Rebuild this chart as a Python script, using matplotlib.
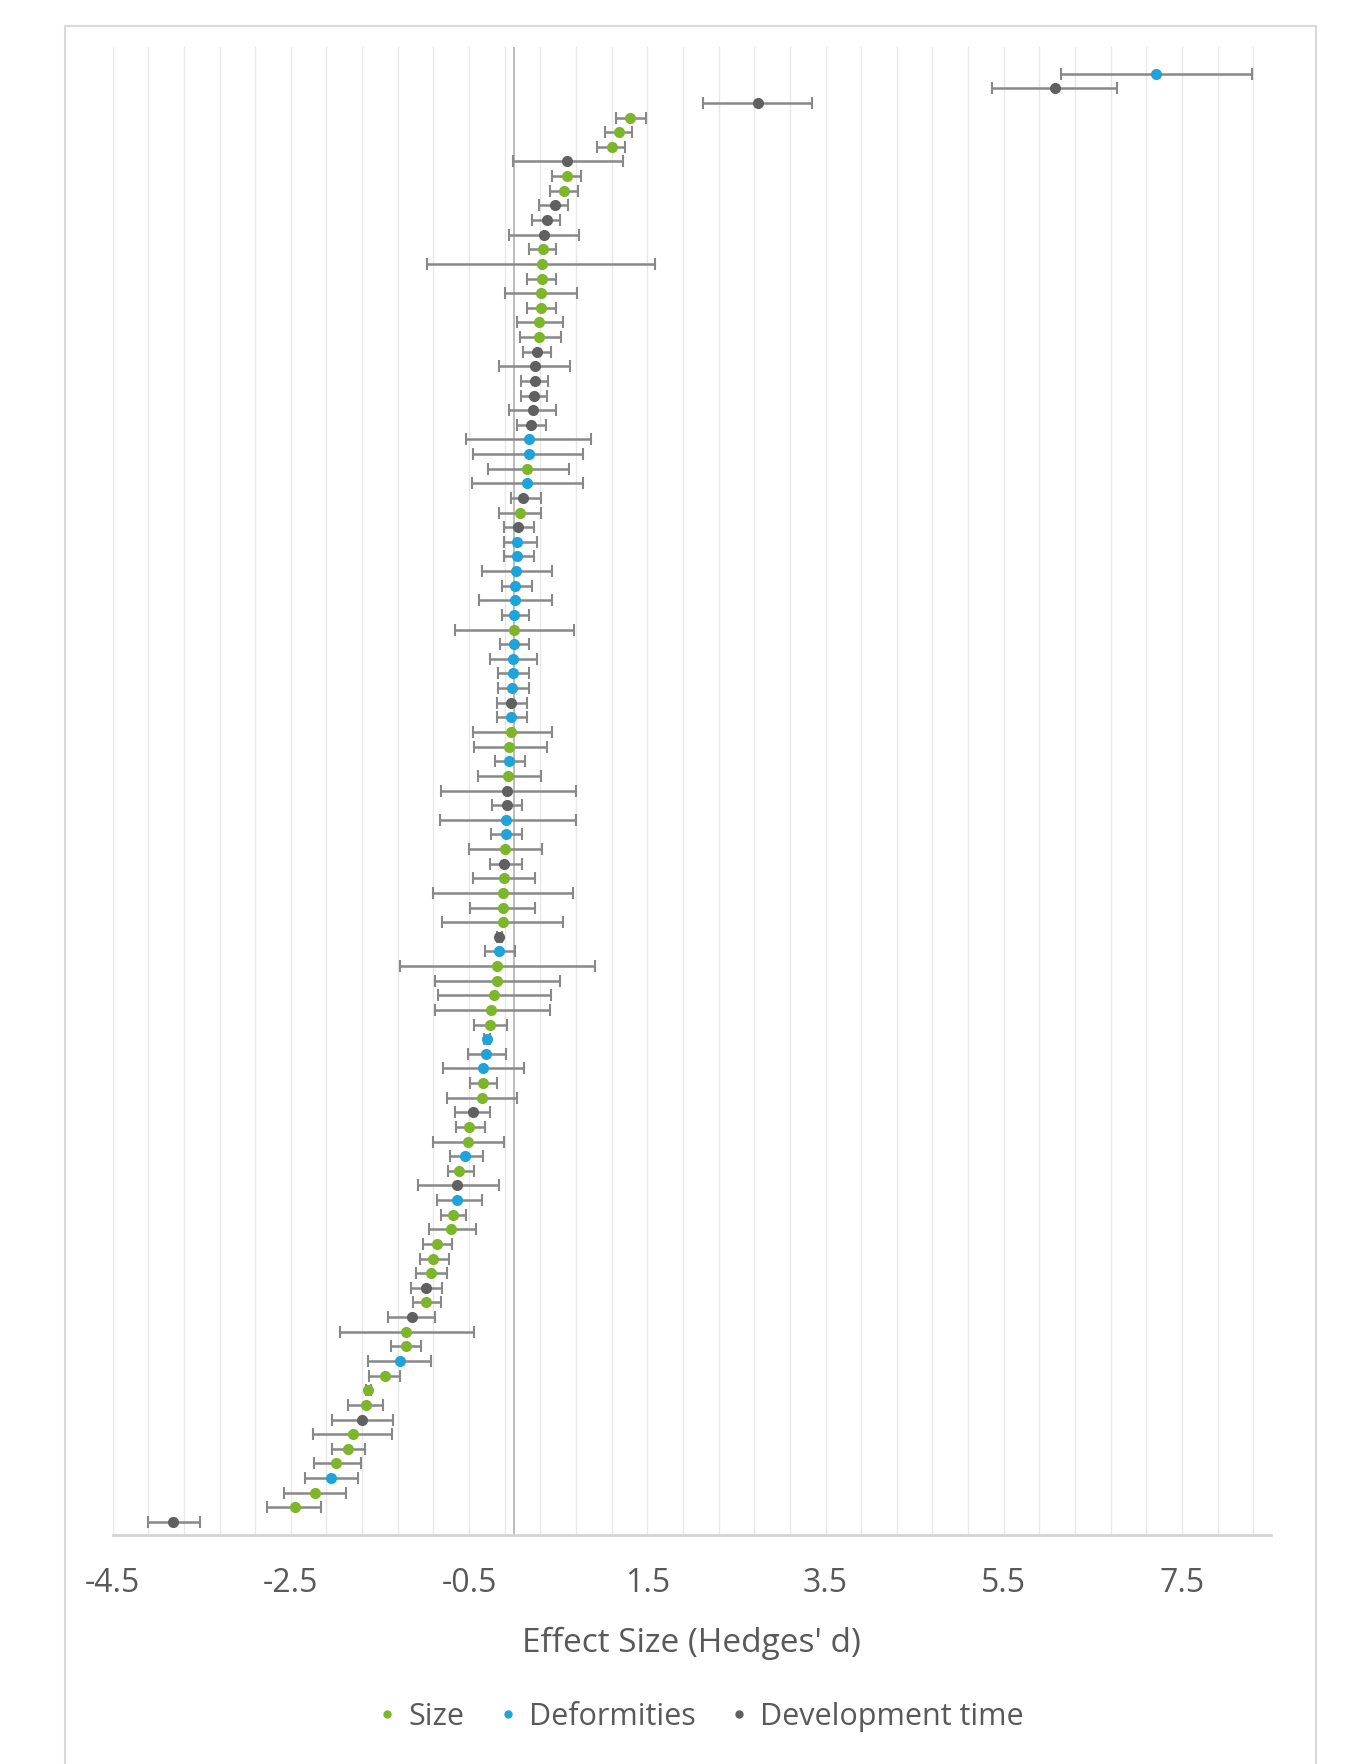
import numpy as np
import matplotlib.pyplot as plt
from matplotlib.lines import Line2D
from matplotlib.patches import Rectangle

plt.rcParams['font.family'] = ['Open Sans', 'DejaVu Sans']
plt.rcParams['axes.unicode_minus'] = False

# S = Size, D = Deformities, T = Development time (top row first)
outcome = list('DTTSSSTSST' 'TTSSSSSSST' 'TTTTTDDSDT' 'STDDDDDDSD' 'DDDTDSSDST'
               'TDDSTSSSST' 'DSSSSSDDDS' 'STSSDSTDSS' 'SSSTSTSSDS' 'SSTSSSDSST')
effect = [7.21, 6.08, 2.74, 1.31, 1.18, 1.10, 0.60, 0.60, 0.56, 0.46,
          0.37, 0.34, 0.33, 0.32, 0.32, 0.31, 0.31, 0.29, 0.28, 0.26,
          0.24, 0.24, 0.23, 0.22, 0.19, 0.17, 0.17, 0.15, 0.15, 0.10,
          0.07, 0.05, 0.04, 0.04, 0.03, 0.02, 0.02, 0.00, 0.00, 0.00,
          -0.01, -0.01, -0.02, -0.03, -0.03, -0.03, -0.05, -0.05, -0.06, -0.07,
          -0.07, -0.08, -0.08, -0.10, -0.11, -0.11, -0.12, -0.12, -0.12, -0.16,
          -0.16, -0.19, -0.19, -0.22, -0.25, -0.27, -0.30, -0.31, -0.34, -0.34,
          -0.36, -0.46, -0.50, -0.51, -0.54, -0.61, -0.64, -0.63, -0.68, -0.70,
          -0.86, -0.90, -0.93, -0.98, -0.98, -1.14, -1.21, -1.21, -1.28, -1.44,
          -1.63, -1.66, -1.70, -1.80, -1.86, -1.99, -2.05, -2.23, -2.45, -3.82]
ci_low = [6.14, 5.37, 2.12, 1.15, 1.02, 0.94, -0.01, 0.43, 0.41, 0.29,
          0.21, -0.05, 0.17, -0.97, 0.15, -0.10, 0.15, 0.04, 0.07, 0.10,
          -0.16, 0.08, 0.08, -0.05, 0.04, -0.53, -0.46, -0.29, -0.47, -0.03,
          -0.16, -0.11, -0.11, -0.11, -0.36, -0.13, -0.39, -0.13, -0.66, -0.15,
          -0.27, -0.17, -0.17, -0.19, -0.19, -0.46, -0.44, -0.21, -0.40, -0.82,
          -0.24, -0.83, -0.25, -0.50, -0.27, -0.46, -0.90, -0.49, -0.80, -0.19,
          -0.32, -1.27, -0.88, -0.85, -0.88, -0.44, -0.33, -0.51, -0.79, -0.49,
          -0.75, -0.66, -0.65, -0.90, -0.71, -0.74, -1.07, -0.86, -0.81, -0.95,
          -1.02, -1.05, -1.10, -1.15, -1.13, -1.41, -1.95, -1.38, -1.63, -1.62,
          -1.66, -1.86, -2.04, -2.25, -2.04, -2.24, -2.34, -2.58, -2.77, -4.10]
ci_high = [8.28, 6.77, 3.35, 1.48, 1.33, 1.25, 1.23, 0.76, 0.72, 0.61,
           0.52, 0.73, 0.48, 1.59, 0.48, 0.71, 0.47, 0.55, 0.53, 0.42,
           0.63, 0.39, 0.38, 0.48, 0.36, 0.87, 0.78, 0.62, 0.78, 0.31,
           0.31, 0.23, 0.26, 0.23, 0.43, 0.21, 0.43, 0.17, 0.68, 0.17,
           0.26, 0.17, 0.17, 0.15, 0.15, 0.43, 0.38, 0.13, 0.31, 0.70,
           0.09, 0.70, 0.09, 0.32, 0.09, 0.24, 0.67, 0.24, 0.55, -0.13,
           0.02, 0.91, 0.52, 0.42, 0.41, -0.07, -0.27, -0.08, 0.12, -0.19,
           0.04, -0.26, -0.32, -0.11, -0.34, -0.45, -0.16, -0.36, -0.53, -0.42,
           -0.69, -0.73, -0.75, -0.80, -0.81, -0.88, -0.44, -1.04, -0.93, -1.28,
           -1.60, -1.46, -1.35, -1.36, -1.67, -1.71, -1.75, -1.88, -2.16, -3.52]

groups = {'S': 'Size', 'D': 'Deformities', 'T': 'Development time'}
colors = {'S': '#7db52b', 'D': '#1fa3d8', 'T': '#606060'}

effect = np.array(effect)
ci_low = np.array(ci_low)
ci_high = np.array(ci_high)
outcome = np.array(outcome)
row = np.arange(1, len(effect) + 1)

fig = plt.figure(figsize=(13.48, 17.65), dpi=100)
ax = fig.add_axes([0.0835, 0.1297, 0.8595, 0.8433])

for key in ['S', 'D', 'T']:
    m = outcome == key
    ax.errorbar(effect[m], row[m],
                xerr=[effect[m] - ci_low[m], ci_high[m] - effect[m]],
                fmt='o', color=colors[key], ms=7, mec=colors[key],
                ecolor='#888888', elinewidth=1.8, capsize=4, capthick=1.5,
                zorder=3)

ax.set_xlim(-4.5, 8.5)
ax.set_ylim(100.9, -0.85)

ax.set_xticks(np.arange(-4.5, 8, 2))
ax.set_xticks(np.arange(-4.5, 8.5, 0.4), minor=True)
ax.grid(True, which='both', axis='x', color='#e8e8e8', lw=1, zorder=0)
ax.axvline(0, color='#b0b0b0', lw=1.2, zorder=1)
ax.set_yticks([])
ax.tick_params(axis='x', which='both', length=0, labelsize=23,
               labelcolor='#595959', pad=22)

for s in ['top', 'right', 'left']:
    ax.spines[s].set_visible(False)
ax.spines['bottom'].set_color('#d4d4d4')
ax.spines['bottom'].set_linewidth(2)

ax.set_xlabel("Effect Size (Hedges' d)", fontsize=24, color='#595959')
ax.xaxis.set_label_coords(0.5, -0.061)

handles = [Line2D([], [], ls='', marker='o', ms=5, color=colors[k]) for k in ['S', 'D', 'T']]
fig.legend(handles, [groups[k] for k in ['S', 'D', 'T']], loc='center',
           bbox_to_anchor=(0.52, 0.027), ncol=3, frameon=False, fontsize=22,
           labelcolor='#595959', handlelength=0.6, handletextpad=0.4,
           columnspacing=1.1)

fig.patches.append(Rectangle((0.0482, -0.01), 0.928, 0.9947, transform=fig.transFigure,
                             fill=False, edgecolor='#d9d9d9', lw=1.5))

fig.savefig('out.png', dpi=100, facecolor='white')
